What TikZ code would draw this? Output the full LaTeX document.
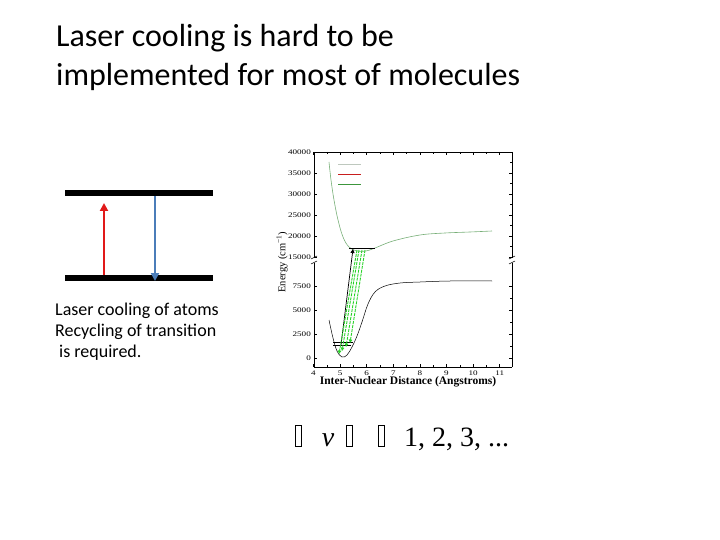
\documentclass[tikz,border=0pt]{standalone}
\usepackage{fontspec}
\setmainfont{Carlito}
\newfontfamily\tms{Liberation Serif}
\newfontfamily\tmswide[FakeStretch=1.3]{Liberation Serif}
\usetikzlibrary{arrows.meta}
\definecolor{arrred}{RGB}{225,25,25}
\definecolor{arrblue}{RGB}{75,125,185}
\definecolor{palegreen}{RGB}{120,175,120}
\definecolor{brightgreen}{RGB}{40,210,40}
\definecolor{legred}{RGB}{200,30,30}
\definecolor{leggreen}{RGB}{60,150,60}
\definecolor{leggray}{RGB}{190,200,190}
\begin{document}
\begin{tikzpicture}[x=1pt,y=-1pt,
  titletext/.style={anchor=west,font=\fontsize{32}{38}\selectfont,inner sep=0},
  bodytext/.style={anchor=west,font=\fontsize{18}{21}\selectfont,inner sep=0},
  bar/.style={line width=6pt},
  levelarrow/.style={line width=2.5pt,-{Triangle[length=8pt,width=8pt]}},
  ticklab/.style={font=\tmswide\fontsize{7}{8}\selectfont,inner sep=0},
  axis/.style={line width=0.9pt},
  tofu/.style={draw,line width=0.8pt,minimum width=6pt,minimum height=21pt,inner sep=0},
  formula/.style={font=\tms\fontsize{28}{30}\selectfont,anchor=base,inner sep=0}]
\useasboundingbox (0,0) rectangle (720,540);

% title
\node[titletext] (t1) at (56,38) {Laser cooling is hard to be};
\node[titletext] (t2) at (56,77) {implemented for most of molecules};

% two-level scheme
\coordinate (ul) at (65,193); \coordinate (ur) at (213,193);
\coordinate (ll) at (65,278); \coordinate (lr) at (213,278);
\draw[bar] (ul) -- (ur);
\draw[bar] (ll) -- (lr);
\coordinate (rs) at (104,275); \coordinate (re) at (104,203);
\coordinate (bs) at (155,196); \coordinate (be) at (155,281);
\draw[levelarrow,arrred] (rs) -- (re);
\draw[levelarrow,arrblue] (bs) -- (be);

\node[bodytext] (l1) at (55,311) {Laser cooling of atoms};
\node[bodytext] (l2) at (55,332) {Recycling of transition};
\node[bodytext] (l3) at (59,353) {is required.};

% plot frame
\draw[axis] (314,152) -- (512,152);
\draw[axis] (314,367) -- (512,367);
\draw[axis] (314,152) -- (314,258);
\draw[axis] (314,263) -- (314,367);
\draw[axis] (512,152) -- (512,258);
\draw[axis] (512,263) -- (512,367);
% break marks
\draw[line width=0.5pt] (311,259) -- (317,256);
\draw[line width=0.5pt] (311,264) -- (317,261);
\draw[line width=0.5pt] (509,259) -- (515,256);
\draw[line width=0.5pt] (509,264) -- (515,261);

% x ticks
\foreach \a in {4,5,...,11} {
  \pgfmathsetmacro{\xx}{313.5+(\a-4)*26.6}
  \draw[line width=0.5pt] (\xx,367) -- (\xx,364);
  \draw[line width=0.5pt] (\xx,152) -- (\xx,155);
  \node[ticklab] at (\xx,373) {\a};
}
\foreach \a in {4.5,5.5,...,11} {
  \pgfmathsetmacro{\xx}{313.5+(\a-4)*26.6}
  \draw[line width=0.4pt] (\xx,367) -- (\xx,365);
  \draw[line width=0.4pt] (\xx,152) -- (\xx,154);
}
% y ticks upper (values in thousands)
\foreach \e/\lab in {40/40000,35/35000,30/30000,25/25000,20/20000,15/15000} {
  \pgfmathsetmacro{\yy}{152+(40-\e)*4.2}
  \draw[line width=0.5pt] (314,\yy) -- (317,\yy);
  \draw[line width=0.5pt] (512,\yy) -- (509,\yy);
  \node[ticklab,anchor=east] at (311,\yy) {\lab};
}
\foreach \e in {37.5,32.5,27.5,22.5,17.5} {
  \pgfmathsetmacro{\yy}{152+(40-\e)*4.2}
  \draw[line width=0.4pt] (512,\yy) -- (510,\yy);
}
% y ticks lower
\foreach \e/\lab in {7.5/7500,5/5000,2.5/2500,0/0} {
  \pgfmathsetmacro{\yy}{358-\e*9.6}
  \draw[line width=0.5pt] (314,\yy) -- (317,\yy);
  \draw[line width=0.5pt] (512,\yy) -- (509,\yy);
  \node[ticklab,anchor=east] at (311,\yy) {\lab};
}
\foreach \e in {6.25,3.75,1.25} {
  \pgfmathsetmacro{\yy}{358-\e*9.6}
  \draw[line width=0.4pt] (512,\yy) -- (510,\yy);
}

% axis labels
\node[font=\tms\fontsize{10.5}{12}\selectfont,rotate=90] (ylab) at (282,262) {Energy (cm\textsuperscript{−1})};
\node[font=\tms\bfseries\fontsize{11.5}{13}\selectfont] (xlab) at (408,382) {Inter-Nuclear Distance (Angstroms)};

% legend
\draw[leggray,line width=0.6pt] (338,164) -- (361,164);
\draw[legred,line width=0.6pt] (338,174) -- (361,174);
\draw[leggreen,line width=0.6pt] (338,184) -- (361,184);

% upper potential
\draw[palegreen,line width=0.6pt] plot[smooth,tension=0.6] coordinates {
 (329,162) (331,180) (334,200) (338,220) (343,237) (349,247) (357,251) (366,251)
 (375,248) (393,241) (420,235) (445,233) (470,232) (492,231)};
\draw[line width=0.5pt] (349,248) -- (375,248);

% lower potential
\draw[line width=0.5pt] plot[smooth,tension=0.6] coordinates {
 (329,320) (333,338) (337,351) (342,357) (347,355) (352,347) (357,336) (362,322)
 (368,304) (375,292) (385,286) (400,283) (420,282) (450,281) (492,281)};
\draw[line width=0.5pt] (333,342) -- (353,342);
\draw[line width=0.5pt] (333,345) -- (351,345);

% excitation arrow
\coordinate (ea) at (341,345); \coordinate (eb) at (353,249);
\draw[line width=0.7pt,-{Triangle[length=4pt,width=4pt]}] (ea) -- (eb);

% decay arrows
\foreach \xt/\xb/\yb in {357/339/354, 359/342/351, 362/346/347, 365/350/343} {
  \coordinate (gt) at (\xt,250); \coordinate (gb) at (\xb,\yb);
  \draw[brightgreen,line width=0.9pt,dash pattern=on 3pt off 1pt,-{Triangle[length=3.5pt,width=3.5pt]}] (gt) -- (gb);
}

% formula with missing glyphs
\node[tofu] (bx1) at (298,436) {};
\node[formula,font=\tms\itshape\fontsize{28}{30}\selectfont] (v) at (328,446) {v};
\node[tofu] (bx2) at (349,436) {};
\node[tofu] (bx3) at (381,436) {};
\node[formula,anchor=base west] (nums) at (404,446) {1, 2, 3, ...};
\end{tikzpicture}
\end{document}
